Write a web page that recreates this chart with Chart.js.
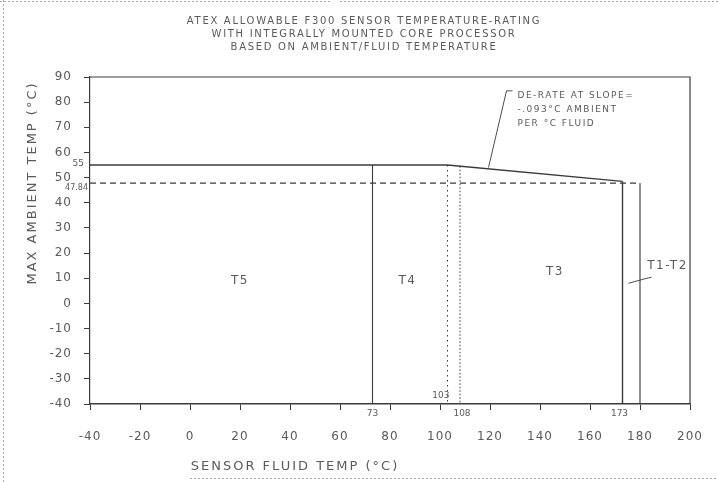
<!DOCTYPE html>
<html>
<head>
<meta charset="utf-8">
<script src="https://cdn.jsdelivr.net/npm/chart.js@4/dist/chart.umd.min.js"></script>
<style>
html, body { margin: 0; padding: 0; background: #fff; }
#wrap { width: 718px; height: 482px; position: relative; }
</style>
</head>
<body>
<div id="wrap"><canvas id="c"></canvas></div>
<script>
// chart text
var titleLines = ['ATEX ALLOWABLE F300 SENSOR TEMPERATURE-RATING',
                  'WITH INTEGRALLY MOUNTED CORE PROCESSOR',
                  'BASED ON AMBIENT/FLUID TEMPERATURE'];
var xTitle = 'SENSOR FLUID TEMP (°C)';
var yTitle = 'MAX AMBIENT TEMP (°C)';

// axes
var xMin = -40, xMax = 200, xStep = 20;
var yMin = -40, yMax = 90, yStep = 10;

// max ambient rating line (flat at 55, then de-rated)
var ratingX = [-40, 103, 173];
var ratingY = [55, 55, 48.5];

// 47.84 limit line
var limitX = [-40, 180];
var limitY = [47.84, 47.84];

// vertical class boundaries
var boundaryX = [73, 103, 108, 173, 180];
var boundaryTop = [55, 55, 54.5, 48.5, 47.84];

// temperature classes
var zoneNames = ['T5', 'T4', 'T3', 'T1-T2'];
var zoneX = [20, 87, 146, 191];
var zoneY = [9, 9, 12.5, 15];

// de-rate note and leaders
var noteLines = ['DE-RATE AT SLOPE=', '-.093°C AMBIENT', 'PER °C FLUID'];
var noteX = 131;
var noteY = [82.5, 77, 71.5];
var noteLeaderX = [129, 126.6, 119.4];
var noteLeaderY = [84.5, 84.5, 54];
var zoneLeaderX = [175.4, 182, 184.6];
var zoneLeaderY = [8, 9.8, 10.4];

function pts(xs, ys) {
    var out = [];
    for (var i = 0; i < xs.length; i++) out.push({x: xs[i], y: ys[i]});
    return out;
}

var ink = '#3a3a3a';
var txt = '#5a5a5a';

function lineSet(data, width, dash) {
    return {
        data: data,
        showLine: true,
        borderColor: ink,
        borderWidth: width,
        borderDash: dash || [],
        pointRadius: 0,
        fill: false,
        tension: 0
    };
}

var datasets = [
    lineSet(pts(ratingX, ratingY), 1.4),
    lineSet(pts(limitX, limitY), 1.2, [6, 4]),
    lineSet(pts([boundaryX[0], boundaryX[0]], [boundaryTop[0], yMin]), 1.1),
    lineSet(pts([boundaryX[1], boundaryX[1]], [boundaryTop[1], yMin]), 1, [1.5, 3.5]),
    lineSet(pts([boundaryX[2], boundaryX[2]], [boundaryTop[2], yMin]), 1, [1.5, 2]),
    lineSet(pts([boundaryX[3], boundaryX[3]], [boundaryTop[3], yMin]), 1.4),
    lineSet(pts([boundaryX[4], boundaryX[4]], [boundaryTop[4], yMin]), 1.1),
    lineSet(pts(noteLeaderX, noteLeaderY), 0.9),
    lineSet(pts(zoneLeaderX, zoneLeaderY), 0.9)
];

var annotations = {
    id: 'annotations',
    beforeDraw: function (chart) {
        var ctx = chart.ctx;
        ctx.save();
        ctx.fillStyle = '#fff';
        ctx.fillRect(0, 0, chart.width, chart.height);
        // scan page edges
        ctx.strokeStyle = '#aaa';
        ctx.lineWidth = 1;
        ctx.setLineDash([2, 2]);
        ctx.beginPath();
        ctx.moveTo(3.5, 0); ctx.lineTo(3.5, chart.height);
        ctx.moveTo(0, 1.5); ctx.lineTo(330, 1.5);
        ctx.moveTo(340, 1.5); ctx.lineTo(718, 1.5);
        ctx.moveTo(190, 478.5); ctx.lineTo(718, 478.5);
        ctx.stroke();
        ctx.restore();
        ctx.letterSpacing = '1px';
    },
    afterDatasetsDraw: function (chart) {
        var ctx = chart.ctx, xs = chart.scales.x, ys = chart.scales.y, a = chart.chartArea;
        ctx.save();
        // frame
        ctx.strokeStyle = ink;
        ctx.lineWidth = 1.2;
        ctx.beginPath();
        ctx.moveTo(a.left, a.top); ctx.lineTo(a.right, a.top); ctx.lineTo(a.right, a.bottom);
        ctx.stroke();

        ctx.fillStyle = txt;
        ctx.textAlign = 'center';
        ctx.textBaseline = 'middle';

        // title
        ctx.letterSpacing = '1.7px';
        ctx.font = '10px "DejaVu Sans"';
        for (var t = 0; t < titleLines.length; t++) {
            ctx.fillText(titleLines[t], chart.width / 2 + 5, 21 + t * 13);
        }

        ctx.letterSpacing = '1.5px';
        ctx.font = '12px "DejaVu Sans"';
        for (var i = 0; i < zoneNames.length; i++) {
            ctx.fillText(zoneNames[i], xs.getPixelForValue(zoneX[i]), ys.getPixelForValue(zoneY[i]));
        }

        ctx.font = '9px "DejaVu Sans"';
        ctx.textAlign = 'left';
        for (var j = 0; j < noteLines.length; j++) {
            ctx.fillText(noteLines[j], xs.getPixelForValue(noteX), ys.getPixelForValue(noteY[j]));
        }

        // value call-outs
        ctx.letterSpacing = '0px';
        ctx.font = '9px "DejaVu Sans"';
        ctx.textAlign = 'right';
        ctx.fillText('55', a.left - 6, ys.getPixelForValue(ratingY[0]) - 1);
        ctx.font = '8px "DejaVu Sans"';
        ctx.fillText('47.84', a.left - 2, ys.getPixelForValue(limitY[0]) + 5);
        ctx.font = '9px "DejaVu Sans"';
        ctx.textAlign = 'right';
        ctx.fillText(String(boundaryX[1]), xs.getPixelForValue(boundaryX[1]) + 2, a.bottom - 8);
        ctx.textAlign = 'center';
        ctx.fillText(String(boundaryX[0]), xs.getPixelForValue(boundaryX[0]), a.bottom + 10);
        ctx.fillText(String(boundaryX[2]), xs.getPixelForValue(boundaryX[2]) + 2, a.bottom + 10);
        ctx.fillText(String(boundaryX[3]), xs.getPixelForValue(boundaryX[3]) - 3, a.bottom + 10);

        // axis titles
        ctx.letterSpacing = '2px';
        ctx.font = '13px "DejaVu Sans"';
        ctx.textAlign = 'center';
        ctx.fillText(xTitle, a.left + 205, a.bottom + 63);
        ctx.translate(33, a.top + 106);
        ctx.rotate(-Math.PI / 2);
        ctx.fillText(yTitle, 0, 0);
        ctx.restore();
    }
};

new Chart(document.getElementById('c'), {
    type: 'scatter',
    data: { datasets: datasets },
    options: {
        responsive: true,
        maintainAspectRatio: false,
        animation: false,
        layout: { padding: { left: 0, right: 28, top: 77, bottom: 0 } },
        plugins: {
            legend: { display: false },
            tooltip: { enabled: false },
            title: { display: false }
        },
        scales: {
            x: {
                type: 'linear',
                min: xMin, max: xMax,
                afterFit: function (s) {
                    s.height = 78;
                    s.paddingLeft = 0;
                    s.paddingRight = 0;
                },
                grid: { drawOnChartArea: false, tickLength: 6, color: ink },
                border: { color: ink, width: 1.4 },
                ticks: {
                    stepSize: xStep,
                    padding: 20,
                    color: txt,
                    font: { family: 'DejaVu Sans', size: 12 }
                }
            },
            y: {
                type: 'linear',
                min: yMin, max: yMax,
                afterFit: function (s) {
                    s.width = 90;
                    s.paddingTop = 0;
                    s.paddingBottom = 0;
                },
                grid: { drawOnChartArea: false, tickLength: 6, color: ink },
                border: { color: ink, width: 1.2 },
                ticks: {
                    stepSize: yStep,
                    padding: 12,
                    color: txt,
                    font: { family: 'DejaVu Sans', size: 12 }
                }
            }
        }
    },
    plugins: [annotations]
});
</script>
</body>
</html>
